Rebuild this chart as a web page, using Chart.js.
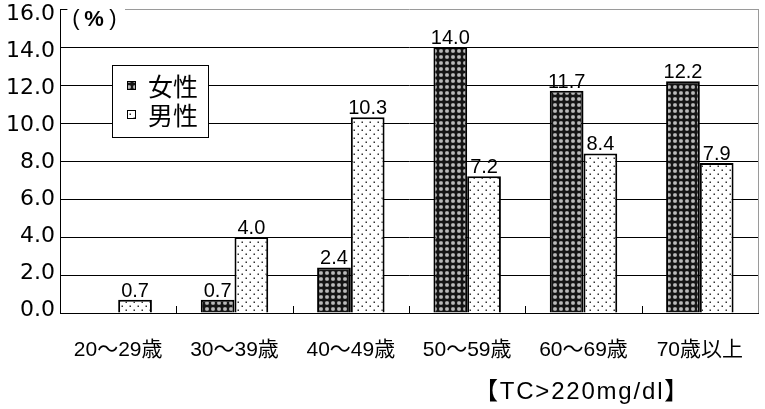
<!DOCTYPE html>
<html lang="ja">
<head>
<meta charset="utf-8">
<script src="https://cdn.jsdelivr.net/npm/chart.js@4/dist/chart.umd.min.js"></script>
<style>
  html, body { margin: 0; padding: 0; background: #fff; }
  #wrap { width: 765px; height: 409px; }
</style>
</head>
<body>
<div id="wrap"><canvas id="chart" width="765" height="409"></canvas></div>
<script>
// Age groups and the share (%) of people with TC > 220 mg/dl
const categories = ['20～29歳', '30～39歳', '40～49歳', '50～59歳', '60～69歳', '70歳以上'];
const femaleValues = [null, 0.7, 2.4, 14.0, 11.7, 12.2];
const maleValues = [0.7, 4.0, 10.3, 7.2, 8.4, 7.9];
const seriesNames = ['女性', '男性'];
const yTicks = [0, 2, 4, 6, 8, 10, 12, 14, 16];
const footnote = '【TC>220mg/dl】';

const LATIN = '"Liberation Sans", Arial, "Noto Sans CJK JP", sans-serif';
const WIDE = '"DejaVu Sans", "Noto Sans CJK JP", sans-serif';

// Dark cross-hatch fill for the female series
function makeFemalePattern() {
  const c = document.createElement('canvas');
  c.width = 6; c.height = 6;
  const g = c.getContext('2d');
  g.fillStyle = '#151515';
  g.fillRect(0, 0, 6, 6);
  g.fillStyle = '#a8a8a8';
  g.beginPath();
  g.arc(3, 3, 2.1, 0, Math.PI * 2);
  g.fill();
  g.fillStyle = '#f4f4f4';
  g.fillRect(2.5, 2.5, 1, 1);
  return g.createPattern(c, 'repeat');
}

// Light dotted fill for the male series
function makeMalePattern() {
  const c = document.createElement('canvas');
  c.width = 8; c.height = 8;
  const g = c.getContext('2d');
  g.fillStyle = '#ffffff';
  g.fillRect(0, 0, 8, 8);
  g.fillStyle = '#333333';
  g.fillRect(1.5, 1.5, 1.5, 1.5);
  g.fillRect(5.5, 5.5, 1.5, 1.5);
  return g.createPattern(c, 'repeat');
}

const femaleFill = makeFemalePattern();
const maleFill = makeMalePattern();

const decor = {
  id: 'decor',
  beforeDatasetsDraw(chart) {
    const { ctx, chartArea: a } = chart;
    ctx.save();
    // right frame line
    ctx.strokeStyle = '#9a9a9a';
    ctx.lineWidth = 1;
    ctx.beginPath();
    ctx.moveTo(Math.round(a.right) + 0.5, a.top);
    ctx.lineTo(Math.round(a.right) + 0.5, a.bottom);
    ctx.stroke();
    // short dark tick at the top of the value axis
    ctx.strokeStyle = '#000';
    ctx.beginPath();
    ctx.moveTo(a.left, Math.round(a.top) + 0.5);
    ctx.lineTo(a.left + 7, Math.round(a.top) + 0.5);
    ctx.stroke();
    // unit label over the top frame line
    ctx.fillStyle = '#fff';
    ctx.fillRect(a.left + 8, a.top - 6, 57, 24);
    ctx.fillStyle = '#000';
    ctx.textBaseline = 'middle';
    ctx.textAlign = 'center';
    ctx.font = '22px "Liberation Sans", sans-serif';
    ctx.fillText('(', a.left + 16, a.top + 10);
    ctx.fillText(')', a.left + 53, a.top + 10);
    ctx.font = 'bold 22px "Liberation Sans", sans-serif';
    ctx.fillText('%', a.left + 34, a.top + 11);
    // tick marks between categories, pointing into the plot
    const x = chart.scales.x;
    ctx.strokeStyle = '#000';
    ctx.beginPath();
    for (let i = 0; i < categories.length - 1; i++) {
      const bx = Math.round((x.getPixelForValue(i) + x.getPixelForValue(i + 1)) / 2) + 0.5;
      ctx.moveTo(bx, a.bottom);
      ctx.lineTo(bx, a.bottom - 7);
    }
    ctx.stroke();
    ctx.restore();
  },
  afterDatasetsDraw(chart) {
    const { ctx } = chart;
    ctx.save();
    // value labels above each bar
    ctx.fillStyle = '#000';
    ctx.font = '20px ' + LATIN;
    ctx.textAlign = 'center';
    ctx.textBaseline = 'alphabetic';
    chart.data.datasets.forEach((ds, di) => {
      const meta = chart.getDatasetMeta(di);
      meta.data.forEach((bar, i) => {
        const v = ds.data[i];
        if (v === null || v === undefined) return;
        ctx.fillText(v.toFixed(1), bar.x, bar.y - 3);
      });
    });
    // legend box
    const lx = 112, ly = 65, lw = 96, lh = 72;
    ctx.fillStyle = '#fff';
    ctx.fillRect(lx, ly, lw, lh);
    ctx.strokeStyle = '#000';
    ctx.lineWidth = 1;
    ctx.strokeRect(lx + 0.5, ly + 0.5, lw, lh);
    const fills = [femaleFill, maleFill];
    const rows = [85, 114];
    ctx.font = '25px "Noto Sans CJK JP", sans-serif';
    ctx.textAlign = 'left';
    ctx.textBaseline = 'middle';
    seriesNames.forEach((name, i) => {
      const ry = rows[i];
      ctx.fillStyle = fills[i];
      ctx.fillRect(127, ry - 4, 9, 9);
      ctx.strokeStyle = '#000';
      ctx.strokeRect(127.5, ry - 3.5, 8, 8);
      ctx.fillStyle = '#000';
      ctx.fillText(name, 148, ry + 1);
    });
    // footnote
    ctx.font = '24px ' + LATIN;
    ctx.textAlign = 'center';
    ctx.textBaseline = 'middle';
    ctx.letterSpacing = '1.8px';
    ctx.fillText(footnote, 582, 392);
    ctx.restore();
  }
};

new Chart(document.getElementById('chart'), {
  type: 'bar',
  data: {
    labels: categories,
    datasets: [
      { label: seriesNames[0], data: femaleValues, backgroundColor: femaleFill, borderColor: '#000', borderWidth: 2 },
      { label: seriesNames[1], data: maleValues, backgroundColor: maleFill, borderColor: '#000', borderWidth: 2 }
    ]
  },
  options: {
    responsive: false,
    animation: false,
    devicePixelRatio: 1,
    layout: { padding: { left: 0, right: 7, top: 9, bottom: 0 } },
    datasets: { bar: { categoryPercentage: 0.58, barPercentage: 1.0 } },
    plugins: { legend: { display: false }, tooltip: { enabled: false }, title: { display: false } },
    scales: {
      x: {
        offset: true,
        grid: { display: false, drawTicks: false },
        border: { display: true, color: '#000', width: 1 },
        ticks: {
          color: '#000',
          font: { size: 21, family: LATIN },
          padding: 25,
          maxRotation: 0,
          autoSkip: false
        },
        afterFit(scale) { scale.height = 96; scale.paddingLeft = 0; scale.paddingRight = 0; }
      },
      // value axis: gridlines and axis line
      y: {
        min: 0,
        max: 16,
        position: 'left',
        afterBuildTicks(scale) { scale.ticks = yTicks.map(v => ({ value: v })); },
        grid: {
          color: c => (c.tick && c.tick.value === 16 ? '#9a9a9a' : '#000'),
          lineWidth: 1,
          drawTicks: false
        },
        border: { display: true, color: '#000', width: 1 },
        ticks: { display: false },
        afterFit(scale) { scale.width = 0; scale.paddingTop = 0; scale.paddingBottom = 0; }
      },
      // value axis labels, set in slightly from the plot edges
      yLabels: {
        min: -0.14,
        max: 16.3,
        position: 'left',
        afterBuildTicks(scale) { scale.ticks = yTicks.map(v => ({ value: v })); },
        grid: { display: false, drawTicks: false },
        border: { display: false },
        ticks: {
          color: '#000',
          font: { size: 22, family: WIDE },
          padding: 5,
          callback: v => Number(v).toFixed(1)
        },
        afterFit(scale) { scale.width = 60; scale.paddingTop = 0; scale.paddingBottom = 0; }
      }
    }
  },
  plugins: [decor]
});
</script>
</body>
</html>
